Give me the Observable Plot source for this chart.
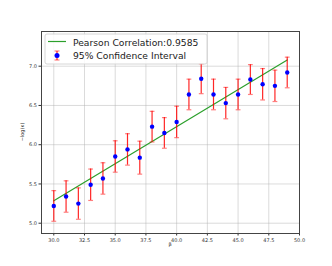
<!DOCTYPE html>
<html>
<head>
<meta charset="utf-8">
<script src="https://cdn.jsdelivr.net/npm/d3@7"></script>
<script src="https://cdn.jsdelivr.net/npm/@observablehq/plot@0.6"></script>
<style>
  html, body { margin: 0; padding: 0; background: #fff; }
  #chart { width: 332px; height: 266px; }
  svg { font-family: "DejaVu Sans", sans-serif; }
</style>
</head>
<body>
<div id="chart"></div>
<script>
const betas = [30, 31, 32, 33, 34, 35, 36, 37, 38, 39, 40, 41, 42, 43, 44, 45, 46, 47, 48, 49];
const negLogK = [5.22, 5.34, 5.25, 5.49, 5.57, 5.85, 5.94, 5.835, 6.23, 6.15, 6.29, 6.64, 6.84, 6.64, 6.53, 6.64, 6.83, 6.77, 6.75, 6.92];
const ciHalf = [0.195, 0.2, 0.2, 0.2, 0.2, 0.2, 0.2, 0.21, 0.195, 0.195, 0.2, 0.195, 0.19, 0.195, 0.2, 0.195, 0.19, 0.2, 0.2, 0.195];
const fitX = [30, 49];
const fitY = [5.285, 7.08];
const xTicks = [30, 32.5, 35, 37.5, 40, 42.5, 45, 47.5, 50];
const yTicks = [5.0, 5.5, 6.0, 6.5, 7.0];
const legendLabels = ["Pearson Correlation:0.9585", "95% Confidence Interval"];

const pts = betas.map((b, i) => ({x: b, y: negLogK[i], lo: negLogK[i] - ciHalf[i], hi: negLogK[i] + ciHalf[i]}));
const fit = fitX.map((x, i) => ({x, y: fitY[i]}));

const capSymbol = {
  draw(ctx, size) {
    const r = Math.sqrt(size / Math.PI);
    ctx.moveTo(-r, 0);
    ctx.lineTo(r, 0);
  }
};

const chart = Plot.plot({
  width: 332,
  height: 266,
  marginLeft: 41,
  marginRight: 33,
  marginTop: 31,
  marginBottom: 33,
  style: {fontFamily: "DejaVu Sans, sans-serif", fontSize: "5px", color: "#333", background: "#fff"},
  x: {domain: [29, 50], label: null},
  y: {domain: [4.869, 7.442], label: null},
  marks: [
    Plot.gridX(xTicks, {stroke: "#b0b0b0", strokeOpacity: 0.45, strokeWidth: 1}),
    Plot.gridY(yTicks, {stroke: "#b0b0b0", strokeOpacity: 0.45, strokeWidth: 1}),
    Plot.axisX(xTicks, {tickFormat: d3.format(".1f"), tickSize: 2.5, tickPadding: 2, fontSize: 5, fill: "#333", stroke: "#333", label: null}),
    Plot.axisY(yTicks, {tickFormat: d3.format(".1f"), tickSize: 2.5, tickPadding: 2, fontSize: 5, fill: "#333", stroke: "#333", label: null}),
    Plot.line(fit, {x: "x", y: "y", stroke: "#2ca02c", strokeWidth: 1.2}),
    Plot.ruleX(pts, {x: "x", y1: "lo", y2: "hi", stroke: "#ff0000", strokeWidth: 1.2, strokeOpacity: 0.85}),
    Plot.dot(pts, {x: "x", y: "lo", symbol: capSymbol, r: 2.4, stroke: "#ff0000", strokeOpacity: 0.5, strokeWidth: 1.2, fill: "none"}),
    Plot.dot(pts, {x: "x", y: "hi", symbol: capSymbol, r: 2.4, stroke: "#ff0000", strokeOpacity: 0.5, strokeWidth: 1.2, fill: "none"}),
    Plot.dot(pts, {x: "x", y: "y", r: 2.2, fill: "#0000ff", stroke: "none"}),
    Plot.frame({stroke: "#444", strokeWidth: 1})
  ]
});

document.getElementById("chart").appendChild(chart);

const svg = d3.select(chart);
// axis titles
svg.append("text").attr("x", 170).attr("y", 246).attr("text-anchor", "middle")
  .attr("font-size", 5).attr("fill", "#333").text("β");
svg.append("text").attr("transform", "translate(24,132) rotate(-90)").attr("text-anchor", "middle")
  .attr("font-size", 5).attr("fill", "#333").text("−log(κ)");

// legend
const lg = svg.append("g").attr("text-anchor", "start");
lg.append("rect").attr("x", 45).attr("y", 34).attr("width", 162).attr("height", 30).attr("rx", 2)
  .attr("fill", "#fff").attr("fill-opacity", 0.85).attr("stroke", "#ccc").attr("stroke-width", 0.8);
lg.append("line").attr("x1", 48).attr("x2", 66).attr("y1", 41.5).attr("y2", 41.5)
  .attr("stroke", "#2ca02c").attr("stroke-width", 1.2);
lg.append("text").attr("x", 73).attr("y", 45.5).attr("text-anchor", "start").attr("font-size", 9.2).attr("fill", "#222").text(legendLabels[0]);
lg.append("line").attr("x1", 57).attr("x2", 57).attr("y1", 51).attr("y2", 60)
  .attr("stroke", "#ff0000").attr("stroke-width", 1.2).attr("stroke-opacity", 0.85);
lg.append("line").attr("x1", 54.5).attr("x2", 59.5).attr("y1", 51).attr("y2", 51)
  .attr("stroke", "#ff0000").attr("stroke-width", 1.2).attr("stroke-opacity", 0.5);
lg.append("line").attr("x1", 54.5).attr("x2", 59.5).attr("y1", 60).attr("y2", 60)
  .attr("stroke", "#ff0000").attr("stroke-width", 1.2).attr("stroke-opacity", 0.5);
lg.append("circle").attr("cx", 57).attr("cy", 55.5).attr("r", 2.5).attr("fill", "#0000ff");
lg.append("text").attr("x", 73).attr("y", 58.5).attr("text-anchor", "start").attr("font-size", 9.2).attr("fill", "#222").text(legendLabels[1]);
</script>
</body>
</html>
